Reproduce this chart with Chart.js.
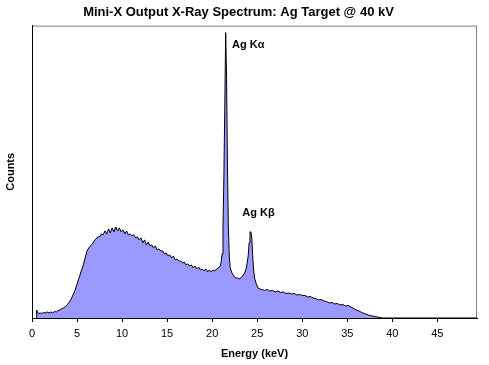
<!DOCTYPE html>
<html>
<head>
<meta charset="utf-8">
<script src="https://cdn.jsdelivr.net/npm/chart.js@4/dist/chart.umd.min.js"></script>
<style>
  body { margin: 0; background: #fff; }
</style>
</head>
<body>
<canvas id="spectrum" width="489" height="365"></canvas>
<script>
// spectrum (energy in keV, counts in arbitrary units)
const energies = [
  0.50, 0.52, 0.6, 0.7, 0.9, 1.1, 1.3, 1.5, 1.7, 1.9, 2.1, 2.3, 2.5, 2.7, 2.9,
  3.1, 3.3, 3.5, 3.7, 3.9, 4.1, 4.3, 4.5, 4.7, 4.9, 5.1, 5.3, 5.5, 5.7, 5.9,
  6.1, 6.3, 6.5, 6.7, 6.9, 7.1, 7.3, 7.5, 7.7, 7.9, 8.1, 8.3, 8.5, 8.7, 8.9,
  9.1, 9.3, 9.5, 9.7, 9.9, 10.1, 10.3, 10.5, 10.7, 10.9, 11.1, 11.3, 11.5, 11.7, 11.9,
  12.1, 12.3, 12.5, 12.7, 12.9, 13.1, 13.3, 13.5, 13.7, 13.9, 14.1, 14.3, 14.5, 14.7, 14.9,
  15.1, 15.3, 15.5, 15.7, 15.9, 16.1, 16.3, 16.5, 16.7, 16.9, 17.1, 17.3, 17.5, 17.7, 17.9,
  18.1, 18.3, 18.5, 18.7, 18.9, 19.1, 19.3, 19.5, 19.7, 19.9, 20.1, 20.3, 20.5, 20.7, 20.9,
  21.0, 21.1, 21.2, 21.3, 21.4, 21.5, 21.6, 21.7, 21.8, 21.9, 22.0, 22.2, 22.4, 22.6, 22.8,
  23.0, 23.2, 23.4, 23.6, 23.8, 24.0, 24.1, 24.2, 24.3, 24.4, 24.5, 24.6, 24.7, 24.9,
  25.1, 25.3, 25.5, 25.8, 26.1, 26.4, 26.7, 27.0, 27.3, 27.6, 27.9, 28.2, 28.5, 28.8,
  29.1, 29.4, 29.7, 30.0, 30.3, 30.6, 30.9, 31.2, 31.5, 31.8, 32.1, 32.4, 32.7, 33.0,
  33.3, 33.6, 33.9, 34.2, 34.5, 34.8, 35.1, 35.4, 35.7, 36.0, 36.3, 36.6, 36.9, 37.2,
  37.5, 37.8, 38.1, 38.4, 38.7, 39.0, 49.4
];
const counts = [
  0, 8, 6, 4.5, 5, 4.5, 5.5, 5, 6, 5, 6, 5, 6.5, 6, 7.5,
  8, 9.5, 10, 11.5, 13, 15.5, 18, 22, 26, 31, 37, 42, 48, 53, 60,
  67, 70, 72, 74, 77, 79, 81, 81, 84, 83, 87, 84, 89, 85, 90,
  86, 91, 87, 90, 86, 88, 84, 87, 83, 84, 82, 83, 80, 81, 78,
  80, 75, 78, 73, 76, 72, 73, 70, 72, 68, 69, 67, 67, 64, 65,
  62, 63, 60, 62, 58, 59, 57, 57, 55, 56, 53, 54, 52, 53, 50,
  52, 49, 51, 48, 49, 47, 49, 46, 48, 46, 48, 47, 49, 50, 52,
  56, 64, 90, 140, 210, 285, 240, 150, 90, 62, 50, 45, 42, 40, 40,
  39, 40, 42, 45, 50, 62, 75, 86, 86, 80, 62, 48, 40, 34,
  30, 29, 28.5, 27.5, 28.5, 27, 27.5, 26, 27, 25.5, 26, 24.5, 25, 24,
  24.5, 23, 23.5, 22.5, 22.5, 21, 21.5, 20, 19.5, 18, 18.5, 17, 16.5, 15,
  15.5, 14, 14.5, 13, 13.5, 12, 12.5, 11, 9.5, 8, 7, 5.5, 4.5, 3.5,
  2.5, 2, 1.5, 0.8, 0.4, 0, 0
];
const xTickStep = 5;
const peakLabels = ['Ag K\u03b1', 'Ag K\u03b2'];
const peakLabelX = [22.2, 23.35];
const peakLabelY = [272.5, 105];

const points = energies.map((e, i) => ({ x: e, y: counts[i] }));

// grey frame on top and right like the original plot area
const plotFrame = {
  id: 'plotFrame',
  beforeDraw(chart) {
    const a = chart.chartArea;
    const ctx = chart.ctx;
    ctx.save();
    ctx.strokeStyle = '#808080';
    ctx.lineWidth = 1;
    ctx.strokeRect(a.left + 0.5, a.top + 0.5, a.right - a.left - 1, a.bottom - a.top);
    ctx.restore();
  }
};

const peakText = {
  id: 'peakText',
  afterDatasetsDraw(chart) {
    const ctx = chart.ctx;
    const xs = chart.scales.x, ys = chart.scales.y;
    ctx.save();
    ctx.font = 'bold 11px "Liberation Sans", Arial, sans-serif';
    ctx.fillStyle = '#000';
    ctx.textAlign = 'left';
    ctx.textBaseline = 'middle';
    peakLabels.forEach((t, i) => {
      ctx.fillText(t, xs.getPixelForValue(peakLabelX[i]), ys.getPixelForValue(peakLabelY[i]));
    });
    ctx.restore();
  }
};

new Chart(document.getElementById('spectrum'), {
  type: 'line',
  data: {
    datasets: [{
      data: points,
      borderColor: '#000',
      borderWidth: 1,
      backgroundColor: '#9999ff',
      fill: 'origin',
      pointRadius: 0,
      tension: 0
    }]
  },
  options: {
    responsive: false,
    animation: false,
    layout: { padding: { right: 12 } },
    plugins: {
      legend: { display: false },
      tooltip: { enabled: false },
      title: {
        display: true,
        text: 'Mini-X Output X-Ray Spectrum: Ag Target @ 40 kV',
        color: '#000',
        font: { family: '"Liberation Sans", Arial, sans-serif', size: 13, weight: 'bold' },
        padding: { top: 5, bottom: 5 }
      }
    },
    scales: {
      x: {
        type: 'linear',
        min: 0,
        max: 49.4,
        ticks: {
          stepSize: xTickStep,
          includeBounds: false,
          autoSkip: false,
          maxRotation: 0,
          color: '#000',
          padding: 5,
          font: { family: '"Liberation Sans", Arial, sans-serif', size: 11 }
        },
        grid: { display: true, drawOnChartArea: false, drawTicks: true, tickLength: 4, color: '#000' },
        border: { display: true, color: '#000', width: 1 },
        title: {
          display: true,
          text: 'Energy (keV)',
          color: '#000',
          font: { family: '"Liberation Sans", Arial, sans-serif', size: 11, weight: 'bold' }
        },
        afterFit(scale) { scale.height = 47; }
      },
      y: {
        min: 0,
        max: 292,
        ticks: { display: false },
        grid: { display: false },
        border: { display: true, color: '#000', width: 1 },
        title: {
          display: true,
          text: 'Counts',
          color: '#000',
          font: { family: '"Liberation Sans", Arial, sans-serif', size: 11, weight: 'bold' }
        },
        afterFit(scale) { scale.width = 32; }
      }
    }
  },
  plugins: [plotFrame, peakText]
});
</script>
</body>
</html>
